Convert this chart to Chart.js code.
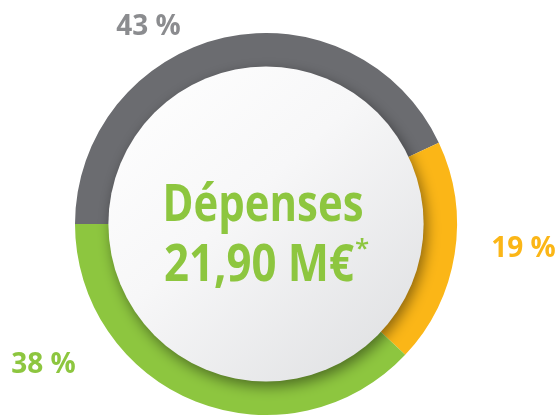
<!DOCTYPE html>
<html>
<head>
<meta charset="utf-8">
<script src="https://cdn.jsdelivr.net/npm/chart.js@4"></script>
<style>
  html, body { margin: 0; padding: 0; background: #fff; }
  canvas { display: block; }
</style>
</head>
<body>
<canvas id="dep-chart" width="559" height="418"></canvas>
<script>
    // shares of spending, clockwise from 9 o'clock
    const segments = ['Gris', 'Orange', 'Vert'];
    const shares = [43, 19, 38];
    const colors = ['#6b6c70', '#fbb617', '#8dc63f'];
    const labelColors = ['#8b8c8f', '#fbb617', '#8dc63f'];
    const centerLines = ['Dépenses', '21,90 M€'];

    // label anchors, as a fraction of outer radius from the centre
    const labelPos = [[-0.615, -0.99], [1.348, 0.173], [-1.165, 0.78]];

    const discPlugin = {
        id: 'disc',
        afterDatasetsDraw(chart) {
            const arc = chart.getDatasetMeta(0).data[0];
            if (!arc) return;
            const { x, y, outerRadius: R, innerRadius: r } = arc;
            const ctx = chart.ctx;

            // inner disc with soft shadow onto the ring
            ctx.save();
            const g = ctx.createLinearGradient(x - r, y - r, x + r * 0.8, y + r);
            g.addColorStop(0, '#ffffff');
            g.addColorStop(0.45, '#f7f7f8');
            g.addColorStop(1, '#dfe0e2');
            ctx.shadowColor = 'rgba(0,0,0,0.45)';
            ctx.shadowBlur = 14;
            ctx.shadowOffsetX = 3;
            ctx.shadowOffsetY = 5;
            ctx.beginPath();
            ctx.arc(x, y, r + 1, 0, Math.PI * 2);
            ctx.fillStyle = g;
            ctx.fill();
            ctx.restore();

            // centre text
            ctx.save();
            ctx.fillStyle = '#8dc63f';
            ctx.textAlign = 'center';
            ctx.textBaseline = 'alphabetic';
            ctx.font = 'bold 52px "Open Sans"';
            ctx.fillText(centerLines[0], x - 3, y - 3, 201);
            ctx.fillText(centerLines[1], x - 7, y + 57, 190);
            const w2 = Math.min(ctx.measureText(centerLines[1]).width, 190);
            ctx.font = '600 26px "Open Sans"';
            ctx.textAlign = 'left';
            ctx.fillText('*', x - 7 + w2 / 2 + 1, y + 33);
            ctx.restore();

            // percentage labels
            ctx.save();
            ctx.font = 'bold 28px "Open Sans"';
            ctx.textAlign = 'center';
            ctx.textBaseline = 'alphabetic';
            shares.forEach((v, i) => {
                ctx.fillStyle = labelColors[i];
                ctx.fillText(v + ' %', x + labelPos[i][0] * R, y + labelPos[i][1] * R, 68);
            });
            ctx.restore();
        }
    };

    new Chart(document.getElementById('dep-chart'), {
        type: 'doughnut',
        data: {
            labels: segments,
            datasets: [{
                data: shares,
                backgroundColor: colors,
                borderWidth: 0
            }]
        },
        options: {
            responsive: false,
            animation: false,
            rotation: 270,
            cutout: '82%',
            layout: { padding: { left: 75, right: 102, top: 33, bottom: 3 } },
            plugins: { legend: { display: false }, tooltip: { enabled: false } }
        },
        plugins: [discPlugin]
    });
</script>
</body>
</html>
